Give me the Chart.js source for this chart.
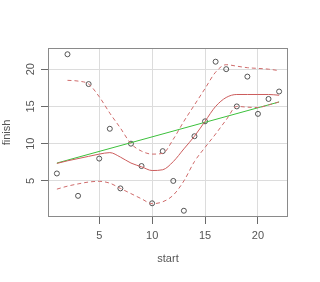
<!DOCTYPE html>
<html>
<head>
<meta charset="utf-8">
<script src="https://cdn.jsdelivr.net/npm/chart.js@4/dist/chart.umd.min.js"></script>
<style>
  html, body { margin: 0; padding: 0; background: #ffffff; }
  #c { display: block; }
</style>
</head>
<body>
<canvas id="c" width="320" height="282"></canvas>
<script>
// ---- data ----
const startValues  = [1, 2, 3, 4, 5, 6, 7, 8, 9, 10, 11, 12, 13, 14, 15, 16, 17, 18, 19, 20, 21, 22];
const finishValues = [6, 22, 3, 18, 8, 12, 4, 10, 7, 2, 9, 5, 1, 11, 13, 21, 20, 15, 19, 14, 16, 17];

// smooth fit (solid red) and its band (dashed red), at each start value
const fitValues   = [7.35, 7.7, 8.0, 8.3, 8.6, 8.8, 8.2, 7.4, 6.9, 6.4, 6.5, 7.6, 9.3, 11.0, 13.0, 15.0, 16.2, 16.6, 16.6, 16.6, 16.6, 16.5];
const upperValues = [null, 18.5, 18.4, 18.0, 16.3, 14.1, 12.1, 10.0, 9.0, 8.6, 8.7, 10.6, 13.0, 15.2, 17.4, 19.6, 20.6, 20.4, 20.2, 20.1, 20.0, 19.8];
const lowerValues = [3.9, 4.3, 4.6, 4.85, 4.95, 4.7, 4.0, 3.3, 2.6, 1.95, 2.2, 3.1, 5.0, 7.6, 9.5, 11.3, 13.2, 15.0, 14.9, 14.85, 15.2, 15.6];

// straight trend line (green)
const trendX = [1, 22];
const trendY = [7.4, 15.6];

// axes
const xTicks = [5, 10, 15, 20];
const yTicks = [5, 10, 15, 20];
const xRange = [0.16, 22.84];
const yRange = [0.16, 22.84];

const pairs = (xs, ys) => xs.map((x, i) => ({ x: x, y: ys[i] }));

const FONT = { family: '"Liberation Sans", Arial, sans-serif', size: 11 };
const TEXT = '#555555';

const boxPlugin = {
  id: 'box',
  afterDraw(chart) {
    const a = chart.chartArea, ctx = chart.ctx;
    ctx.save();
    ctx.strokeStyle = '#8a8a8a';
    ctx.lineWidth = 1;
    ctx.strokeRect(Math.round(a.left) + 0.5, Math.round(a.top) + 0.5,
                   Math.round(a.right - a.left) - 1, Math.round(a.bottom - a.top) - 1);
    // y tick labels, rotated like the reference (reading bottom to top)
    const ys = chart.scales.y;
    ctx.fillStyle = TEXT;
    ctx.font = FONT.size + 'px ' + FONT.family;
    ctx.textAlign = 'center';
    ctx.textBaseline = 'middle';
    ys.ticks.forEach(t => {
      const py = ys.getPixelForValue(t.value);
      ctx.save();
      ctx.translate(ys.right - 17, py);
      ctx.rotate(-Math.PI / 2);
      ctx.fillText(String(t.value), 0, 0);
      ctx.restore();
    });
    ctx.restore();
  }
};

new Chart(document.getElementById('c'), {
  type: 'scatter',
  data: {
    datasets: [
      {
        label: 'upper',
        data: pairs(startValues, upperValues),
        showLine: true, borderColor: '#cf6b6b', borderWidth: 1, borderDash: [4, 3],
        pointRadius: 0, cubicInterpolationMode: 'monotone', spanGaps: false, fill: false
      },
      {
        label: 'lower',
        data: pairs(startValues, lowerValues),
        showLine: true, borderColor: '#cf6b6b', borderWidth: 1, borderDash: [4, 3],
        pointRadius: 0, cubicInterpolationMode: 'monotone', fill: false
      },
      {
        label: 'fit',
        data: pairs(startValues, fitValues),
        showLine: true, borderColor: '#cc5c5c', borderWidth: 1,
        pointRadius: 0, cubicInterpolationMode: 'monotone', fill: false
      },
      {
        label: 'trend',
        data: pairs(trendX, trendY),
        showLine: true, borderColor: '#3cc03c', borderWidth: 1,
        pointRadius: 0, fill: false
      },
      {
        label: 'finish',
        data: pairs(startValues, finishValues),
        showLine: false,
        pointStyle: 'circle', pointRadius: 2.5, pointBorderWidth: 0.9,
        pointBorderColor: '#444444', pointBackgroundColor: 'rgba(0,0,0,0)'
      }
    ]
  },
  options: {
    responsive: false,
    animation: false,
    devicePixelRatio: 1,
    layout: { padding: { left: 0, top: 48, right: 32, bottom: 0 } },
    plugins: { legend: { display: false }, tooltip: { enabled: false } },
    scales: {
      x: {
        type: 'linear', position: 'bottom',
        min: xRange[0], max: xRange[1],
        afterBuildTicks(scale) { scale.ticks = xTicks.map(v => ({ value: v })); },
        afterFit(scale) { scale.height = 65; },
        grid: { color: '#dcdcdc', lineWidth: 1, drawTicks: true, tickLength: 7, tickColor: '#6a6a6a' },
        border: { display: false },
        ticks: { color: TEXT, font: FONT, padding: 5, maxRotation: 0, minRotation: 0 },
        title: { display: true, text: 'start', color: TEXT, font: FONT, padding: { top: 0, bottom: 16 } }
      },
      y: {
        type: 'linear', position: 'left',
        min: yRange[0], max: yRange[1],
        afterBuildTicks(scale) { scale.ticks = yTicks.map(v => ({ value: v })); },
        afterFit(scale) { scale.width = 48; },
        grid: { color: '#dcdcdc', lineWidth: 1, drawTicks: true, tickLength: 7, tickColor: '#6a6a6a' },
        border: { display: false },
        ticks: { display: false },
        title: { display: true, text: 'finish', color: TEXT, font: FONT, padding: { top: 0, bottom: 0 } }
      }
    }
  },
  plugins: [boxPlugin]
});
</script>
</body>
</html>
